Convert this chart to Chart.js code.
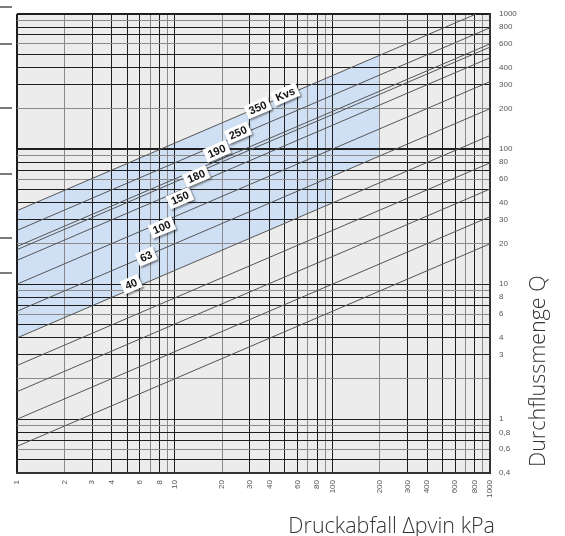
<!DOCTYPE html>
<html><head><meta charset="utf-8">
<script src="https://cdn.jsdelivr.net/npm/chart.js@4.4.0/dist/chart.umd.min.js"></script>
<style>html,body{margin:0;padding:0;background:#fff;}canvas{display:block}</style>
</head><body>
<canvas id="c" width="565" height="536"></canvas>
<script>
// ---- data ----
const kvsValues     = [6.3, 10, 16, 25, 40, 63, 100, 150, 180, 190, 250, 350];
const flowAtMinDrop = [0.63, 1, 1.6, 2.5, 4, 6.3, 10, 15, 18, 19, 25, 35];            // Q at Δp = 1 kPa
const flowAtMaxDrop = [19.9, 31.6, 50.6, 79, 126, 199, 316, 474, 569, 601, 791, 1107]; // Q at Δp = 1000 kPa
const dropRange     = [1, 1000];
const flowRange     = [0.4, 1000];
const bandUpperDrop = [1, 200];
const bandUpperFlow = [35, 495];
const bandLowerDrop = [1, 100, 100, 200];
const bandLowerFlow = [4, 40, 63, 89];
const kvLabelText   = ['40', '63', '100', '150', '180', '190', '250', '350', 'Kvs'];
const kvLabelDrop   = [5.3, 6.6, 8.3, 10.8, 13.7, 18.5, 25.2, 33.7, 50.3];
const kvLabelFlow   = [10.0, 16.0, 26.3, 43.4, 62.8, 96.3, 132, 202, 254];
const xTickLabels   = [1, 2, 3, 4, 6, 8, 10, 20, 30, 40, 60, 80, 100, 200, 300, 400, 600, 800, 1000];
const yTickLabels   = [0.4, 0.6, 0.8, 1, 3, 4, 6, 8, 10, 20, 30, 40, 60, 80, 100, 200, 300, 400, 600, 800, 1000];
const sideMarkFlow  = [1120, 600, 200, 65, 22, 12];
const xTitle = 'Druckabfall Δpvin kPa';
const yTitle = 'Durchflussmenge Q';

// ---- helpers ----
function logGrid(min, max) {
  const out = [];
  for (let e = -2; e <= 4; e++) for (let m = 1; m <= 9; m++) {
    const v = Number((m * Math.pow(10, e)).toPrecision(6));
    if (v >= min * 0.9999 && v <= max * 1.0001) out.push(v);
  }
  return out;
}
const same = (a, b) => Math.abs(a - b) <= Math.abs(b) * 1e-6;
const mantissa = v => Math.round(v / Math.pow(10, Math.floor(Math.log10(v) + 1e-9)));
const fmt = v => String(v).replace('.', ',');
function labelFor(v, list) { return list.some(t => same(v, t)) ? fmt(v) : ''; }

const xGrid = logGrid(dropRange[0], dropRange[1]);
const yGrid = logGrid(flowRange[0], flowRange[1]);

const datasets = kvsValues.map((kv, i) => ({
  label: 'Kvs ' + kv,
  data: [{x: dropRange[0], y: flowAtMinDrop[i]}, {x: dropRange[1], y: flowAtMaxDrop[i]}],
  borderColor: '#555555', borderWidth: 1, pointRadius: 0, fill: false, tension: 0
}));

const decor = {
  id: 'decor',
  beforeDraw(chart) {
    const {ctx, chartArea: a, scales: {x, y}} = chart;
    ctx.save();
    ctx.fillStyle = '#ececec';
    ctx.fillRect(a.left, a.top, a.right - a.left, a.bottom - a.top);
    ctx.beginPath();
    bandUpperDrop.forEach((d, i) => {
      const px = x.getPixelForValue(d), py = y.getPixelForValue(bandUpperFlow[i]);
      i ? ctx.lineTo(px, py) : ctx.moveTo(px, py);
    });
    for (let i = bandLowerDrop.length - 1; i >= 0; i--)
      ctx.lineTo(x.getPixelForValue(bandLowerDrop[i]), y.getPixelForValue(bandLowerFlow[i]));
    ctx.closePath();
    ctx.fillStyle = '#cfe0f4';
    ctx.fill();
    ctx.strokeStyle = '#7a7a7a'; ctx.lineWidth = 2;
    sideMarkFlow.forEach(q => {
      const py = Math.round(y.getPixelForValue(q));
      ctx.beginPath(); ctx.moveTo(0, py); ctx.lineTo(12, py); ctx.stroke();
    });
    ctx.restore();
  },
  afterDatasetsDraw(chart) {
    const {ctx, chartArea: a, scales: {x, y}} = chart;
    const k = 4;
    const ang = Math.atan2(y.getPixelForValue(flowAtMaxDrop[k]) - y.getPixelForValue(flowAtMinDrop[k]),
                           x.getPixelForValue(dropRange[1]) - x.getPixelForValue(dropRange[0]));
    ctx.save();
    ctx.font = 'bold 11px "Liberation Sans", Arial, sans-serif';
    kvLabelText.forEach((t, i) => {
      const px = x.getPixelForValue(kvLabelDrop[i]), py = y.getPixelForValue(kvLabelFlow[i]);
      ctx.save();
      ctx.translate(px, py); ctx.rotate(ang);
      const w = ctx.measureText(t).width + 7, h = 14;
      ctx.shadowColor = 'rgba(0,0,0,0.45)'; ctx.shadowBlur = 2; ctx.shadowOffsetX = 1.5; ctx.shadowOffsetY = 1.5;
      ctx.fillStyle = '#fff'; ctx.fillRect(-w / 2, -h / 2, w, h);
      ctx.shadowColor = 'transparent';
      ctx.fillStyle = '#111'; ctx.textAlign = 'center'; ctx.textBaseline = 'middle';
      ctx.fillText(t, 0, 0.5);
      ctx.restore();
    });
    ctx.font = '300 21.5px "Open Sans", sans-serif';
    ctx.fillStyle = '#333'; ctx.textBaseline = 'alphabetic';
    ctx.textAlign = 'right';
    ctx.fillText(xTitle, a.right + 5, 533);
    ctx.translate(545, a.bottom - 6); ctx.rotate(-Math.PI / 2);
    ctx.textAlign = 'left';
    ctx.fillText(yTitle, 0, 0);
    ctx.restore();
  }
};

const gridColorX = c => [2, 7, 9].includes(mantissa(c.tick.value)) ? '#8a8a8a' : '#1e1e1e';
const gridColorY = c => [2, 6, 9].includes(mantissa(c.tick.value)) ? '#8a8a8a' : '#1e1e1e';

new Chart(document.getElementById('c'), {
  type: 'line',
  data: {datasets},
  plugins: [decor],
  options: {
    responsive: false, animation: false,
    layout: {padding: {left: 17, top: 14, right: 0, bottom: 0}},
    plugins: {legend: {display: false}, tooltip: {enabled: false}},
    scales: {
      x: {
        type: 'logarithmic', min: dropRange[0], max: dropRange[1], position: 'bottom',
        afterBuildTicks: s => { s.ticks = xGrid.map(v => ({value: v})); },
        afterFit: s => { s.height = 63; },
        grid: {color: gridColorX, lineWidth: c => (same(c.tick.value, 1) ? 2 : 1), drawTicks: false},
        border: {color: '#333', width: 2},
        ticks: {autoSkip: false, minRotation: 90, maxRotation: 90, padding: 7, color: '#555',
                font: {family: '"Liberation Sans", Arial, sans-serif', size: 8},
                callback: v => labelFor(v, xTickLabels)}
      },
      y: {
        type: 'logarithmic', min: flowRange[0], max: flowRange[1], position: 'right',
        afterBuildTicks: s => { s.ticks = yGrid.map(v => ({value: v})); },
        afterFit: s => { s.width = 75; },
        grid: {color: gridColorY,
               lineWidth: c => (same(c.tick.value, 100) || same(c.tick.value, 1000) || same(c.tick.value, 0.4) ? 2 : 1),
               drawTicks: false},
        border: {color: '#333', width: 2},
        ticks: {autoSkip: false, padding: 9, color: '#555',
                font: {family: '"Liberation Sans", Arial, sans-serif', size: 8},
                callback: v => labelFor(v, yTickLabels)}
      }
    }
  }
});
</script>
</body></html>
